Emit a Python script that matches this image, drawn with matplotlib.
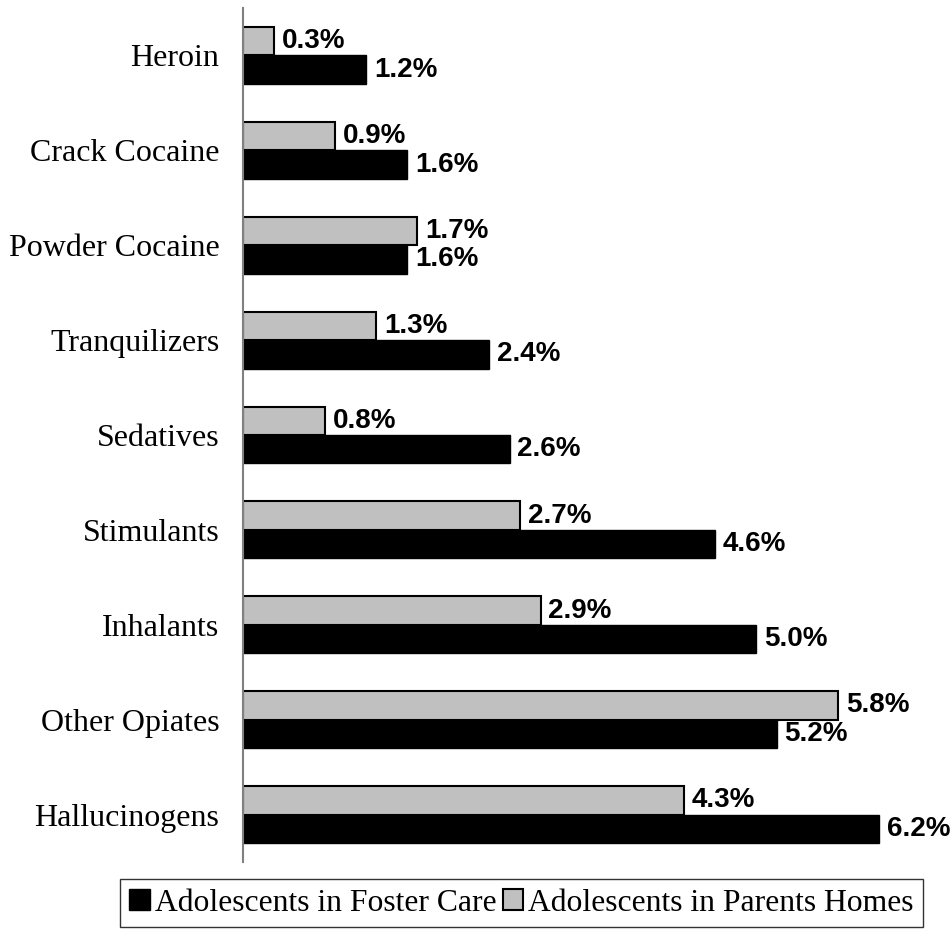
import matplotlib
matplotlib.use("Agg")
import matplotlib.pyplot as plt
import numpy as np

categories = ["Heroin", "Crack Cocaine", "Powder Cocaine", "Tranquilizers",
              "Sedatives", "Stimulants", "Inhalants", "Other Opiates",
              "Hallucinogens"]
foster_care = [1.2, 1.6, 1.6, 2.4, 2.6, 4.6, 5.0, 5.2, 6.2]
parents_homes = [0.3, 0.9, 1.7, 1.3, 0.8, 2.7, 2.9, 5.8, 4.3]

serif = "Liberation Serif"
sans = "Liberation Sans"

fig = plt.figure(figsize=(9.53, 9.30), dpi=100)
ax = fig.add_axes([243 / 953, 1 - 862 / 930, 707 / 953, 854 / 930])

y = np.arange(len(categories))
h = 0.3

gray_bars = ax.barh(y - h / 2, parents_homes, height=h, color="#c0c0c0",
                    edgecolor="black", linewidth=1.5,
                    label="Adolescents in Parents Homes")
black_bars = ax.barh(y + h / 2, foster_care, height=h, color="black",
                     edgecolor="black", linewidth=1.0,
                     label="Adolescents in Foster Care")

for bars, vals in [(gray_bars, parents_homes), (black_bars, foster_care)]:
    for b, v in zip(bars, vals):
        ax.annotate("{:.1f}%".format(v),
                    (b.get_width(), b.get_y() + b.get_height() / 2),
                    xytext=(5.5, 0), textcoords="offset points",
                    ha="left", va="center", fontsize=20, fontweight="bold",
                    family=sans, annotation_clip=False)

ax.set_xlim(0, 6.89)
ax.set_ylim(len(categories) - 0.5, -0.5)
ax.set_yticks(y)
ax.set_yticklabels(categories, fontsize=23, family=serif)
ax.tick_params(axis="y", length=0, pad=17)
ax.set_xticks([])

for s in ["top", "right", "bottom"]:
    ax.spines[s].set_visible(False)
ax.spines["left"].set_color("#808080")
ax.spines["left"].set_linewidth(1.5)

leg = fig.legend(handles=[black_bars, gray_bars],
                 labels=["Adolescents in Foster Care",
                         "Adolescents in Parents Homes"],
                 loc="lower left", bbox_to_anchor=(120 / 953, 3 / 930),
                 ncol=2, frameon=True, fancybox=False, shadow=False,
                 prop={"family": serif, "size": 22.8},
                 handlelength=0.65, handleheight=0.65, handletextpad=0.15,
                 columnspacing=0.2, borderpad=0.3, borderaxespad=0)
leg.get_frame().set_edgecolor("black")
leg.get_frame().set_linewidth(1.0)

fig.savefig("out.png", dpi=100)
